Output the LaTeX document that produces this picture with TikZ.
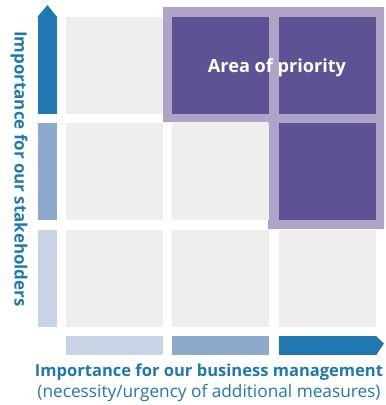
\documentclass[tikz,border=0pt]{standalone}
\usepackage{fontspec}
\setmainfont{Open Sans}
\usetikzlibrary{%
	positioning,%
}
\definecolor{cblue}{RGB}{31, 120, 175}
\definecolor{cbluemid}{RGB}{141, 169, 204}
\definecolor{cbluelight}{RGB}{200, 211, 230}
\definecolor{cgrey}{RGB}{238, 238, 238}
\definecolor{cpurple}{RGB}{94, 82, 148}
\definecolor{cpurplelight}{RGB}{175, 163, 200}
\tikzset{
	cell/.style={%
			rectangle,%
			inner sep=0,%
			minimum width=97bp,%
			minimum height=97bp,%
			fill=cgrey},%
	priocell/.style={%
			cell,%
			fill=cpurple},%
	vbar/.style={%
			rectangle,%
			inner sep=0,%
			minimum width=19bp,%
			minimum height=97bp},%
	hbar/.style={%
			rectangle,%
			inner sep=0,%
			minimum width=97bp,%
			minimum height=19bp},%
	axislabel/.style={%
			text=cblue,%
			inner sep=0,%
			font={\fontsize{16.6}{20}\selectfont\bfseries}},%
}

\begin{document}
\begin{tikzpicture}[x=1bp, y=-1bp]%
	\useasboundingbox (0,0) rectangle (386,405);

	% frame around the priority area
	\fill[cpurplelight] (163,7) -- (384,7) -- (384,229) -- (268,229)
		-- (268,122) -- (163,122) -- cycle;

	% 3x3 matrix
	\node[cell] (c11) at (114.5,65.5) {};
	\node[priocell] (c12) [right=9bp of c11] {};
	\node[priocell] (c13) [right=9bp of c12] {};
	\node[cell] (c21) [below=9bp of c11] {};
	\node[cell] (c22) [right=9bp of c21] {};
	\node[priocell] (c23) [right=9bp of c22] {};
	\node[cell] (c31) [below=9bp of c21] {};
	\node[cell] (c32) [right=9bp of c31] {};
	\node[cell] (c33) [right=9bp of c32] {};

	\node[text=white, font={\fontsize{18.2}{20}\selectfont\bfseries}] (prio) at (277,68) {Area of priority};

	% vertical axis
	\node[vbar, fill=cblue] (yhigh) [left=9bp of c11] {};
	\node[vbar, fill=cbluemid] (ymid) [left=9bp of c21] {};
	\node[vbar, fill=cbluelight] (ylow) [left=9bp of c31] {};
	\coordinate (ytip) at (47.5,5);
	\fill[cblue] (yhigh.north west) -- (ytip) -- (yhigh.north east) -- cycle;

	% horizontal axis
	\node[hbar, fill=cbluelight] (xlow) [below=9bp of c31] {};
	\node[hbar, fill=cbluemid] (xmid) [below=9bp of c32] {};
	\node[hbar, fill=cblue] (xhigh) [below=9bp of c33] {};
	\coordinate (xtip) at (384,343.5);
	\fill[cblue] (xhigh.north east) -- (xtip) -- (xhigh.south east) -- cycle;

	\node[axislabel, rotate=-90, font={\fontsize{17}{20}\selectfont\bfseries}] (ylabel) at (19,169) {Importance for our stakeholders};
	\node[axislabel] (xlabel) at (209,372) {Importance for our business management};
	\node[axislabel, font={\fontsize{17.3}{20}\selectfont}] (xnote) at (209,393) {(necessity/urgency of additional measures)};
\end{tikzpicture}
\end{document}
